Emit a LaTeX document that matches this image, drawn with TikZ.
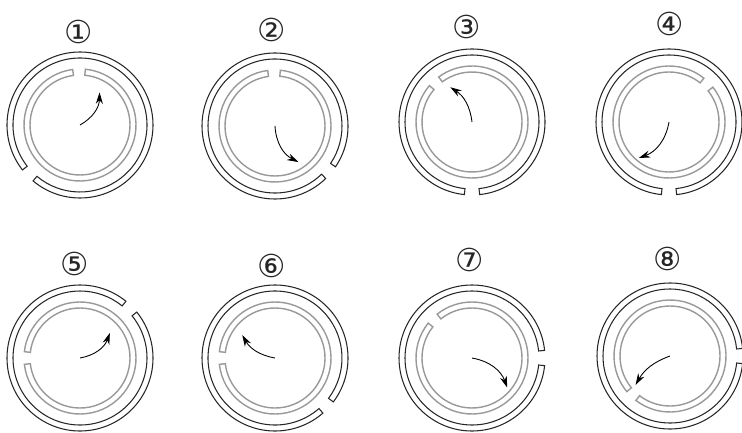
\documentclass[tikz,border=0pt]{standalone}
\usepackage{fontspec}
\newfontfamily\dejavu{DejaVu Sans}
\usetikzlibrary{arrows.meta}

% ring with one slot: [style]{centre}{slot angle}{half slot}{outer r}{inner r}
\newcommand{\slotring}[6][]{%
  \draw[#1] ([shift={(#3+#4:#5)}]#2) arc[start angle=#3+#4, end angle=#3+360-#4, radius=#5]
    -- ([shift={(#3-#4:#6)}]#2) arc[start angle=#3+360-#4, end angle=#3+#4, radius=#6] -- cycle;}

\begin{document}
\begin{tikzpicture}[x=0.2mm, y=0.2mm,
    outerring/.style={line width=0.6pt, black!85},
    innerring/.style={line width=0.8pt, black!40},
    turn/.style={line width=0.5pt, -{Stealth[length=6.5pt, width=4pt]}},
    stepnum/.style={font=\dejavu\fontsize{18}{18}\selectfont, inner sep=0pt, black!85}]

  \useasboundingbox (0,0) rectangle (742,432);

  % Mittelpunkte
  \coordinate (c1) at (80,307);
  \coordinate (c2) at (275,306);
  \coordinate (c3) at (472,310);
  \coordinate (c4) at (669,310);
  \coordinate (c5) at (80,74);
  \coordinate (c6) at (275,74);
  \coordinate (c7) at (472,74);
  \coordinate (c8) at (670,76);

  % Nummern
  \node[stepnum] (n1) at (79,400) {①};
  \node[stepnum] (n2) at (272,402) {②};
  \node[stepnum] (n3) at (467,405) {③};
  \node[stepnum] (n4) at (670,408) {④};
  \node[stepnum] (n5) at (75,168) {⑤};
  \node[stepnum] (n6) at (272,166) {⑥};
  \node[stepnum] (n7) at (470,172) {⑦};
  \node[stepnum] (n8) at (668,173) {⑧};

  % Stellung 1 bis 4
  \slotring[outerring]{c1}{224}{6}{73}{67}
  \slotring[innerring]{c1}{91}{6.5}{56}{50}
  \slotring[outerring]{c2}{320}{6}{73}{67}
  \slotring[innerring]{c2}{91}{6.5}{56}{50}
  \slotring[outerring]{c3}{270}{6}{73}{67}
  \slotring[innerring]{c3}{133}{6.5}{56}{50}
  \slotring[outerring]{c4}{270}{6}{73}{67}
  \slotring[innerring]{c4}{45}{6.5}{56}{50}

  % Stellung 5 bis 8
  \slotring[outerring]{c5}{45}{6}{73}{67}
  \slotring[innerring]{c5}{180}{6.5}{56}{50}
  \slotring[outerring]{c6}{317}{6}{73}{67}
  \slotring[innerring]{c6}{180}{6.5}{56}{50}
  \slotring[outerring]{c7}{0}{6}{73}{67}
  \slotring[innerring]{c7}{135}{6.5}{56}{50}
  \slotring[outerring]{c8}{0}{6}{73}{67}
  \slotring[innerring]{c8}{226}{6.5}{56}{50}

  % Drehpfeile
  \coordinate (t1) at ([shift={(59:38)}]c1);
  \coordinate (t2) at ([shift={(-57:43)}]c2);
  \coordinate (t3) at ([shift={(122:41)}]c3);
  \coordinate (t4) at ([shift={(230:47)}]c4);
  \coordinate (t5) at ([shift={(40:39)}]c5);
  \coordinate (t6) at ([shift={(145:40)}]c6);
  \coordinate (t7) at ([shift={(-40:46)}]c7);
  \coordinate (t8) at ([shift={(220:45)}]c8);
  \draw[turn] (c1) to[bend right=30] (t1);
  \draw[turn] (c2) to[bend right=30] (t2);
  \draw[turn] (c3) to[bend right=25] (t3);
  \draw[turn] (c4) to[bend left=30] (t4);
  \draw[turn] (c5) to[bend right=30] (t5);
  \draw[turn] (c6) to[bend left=25] (t6);
  \draw[turn] (c7) to[bend left=30] (t7);
  \draw[turn] (c8) to[bend right=20] (t8);

\end{tikzpicture}
\end{document}
